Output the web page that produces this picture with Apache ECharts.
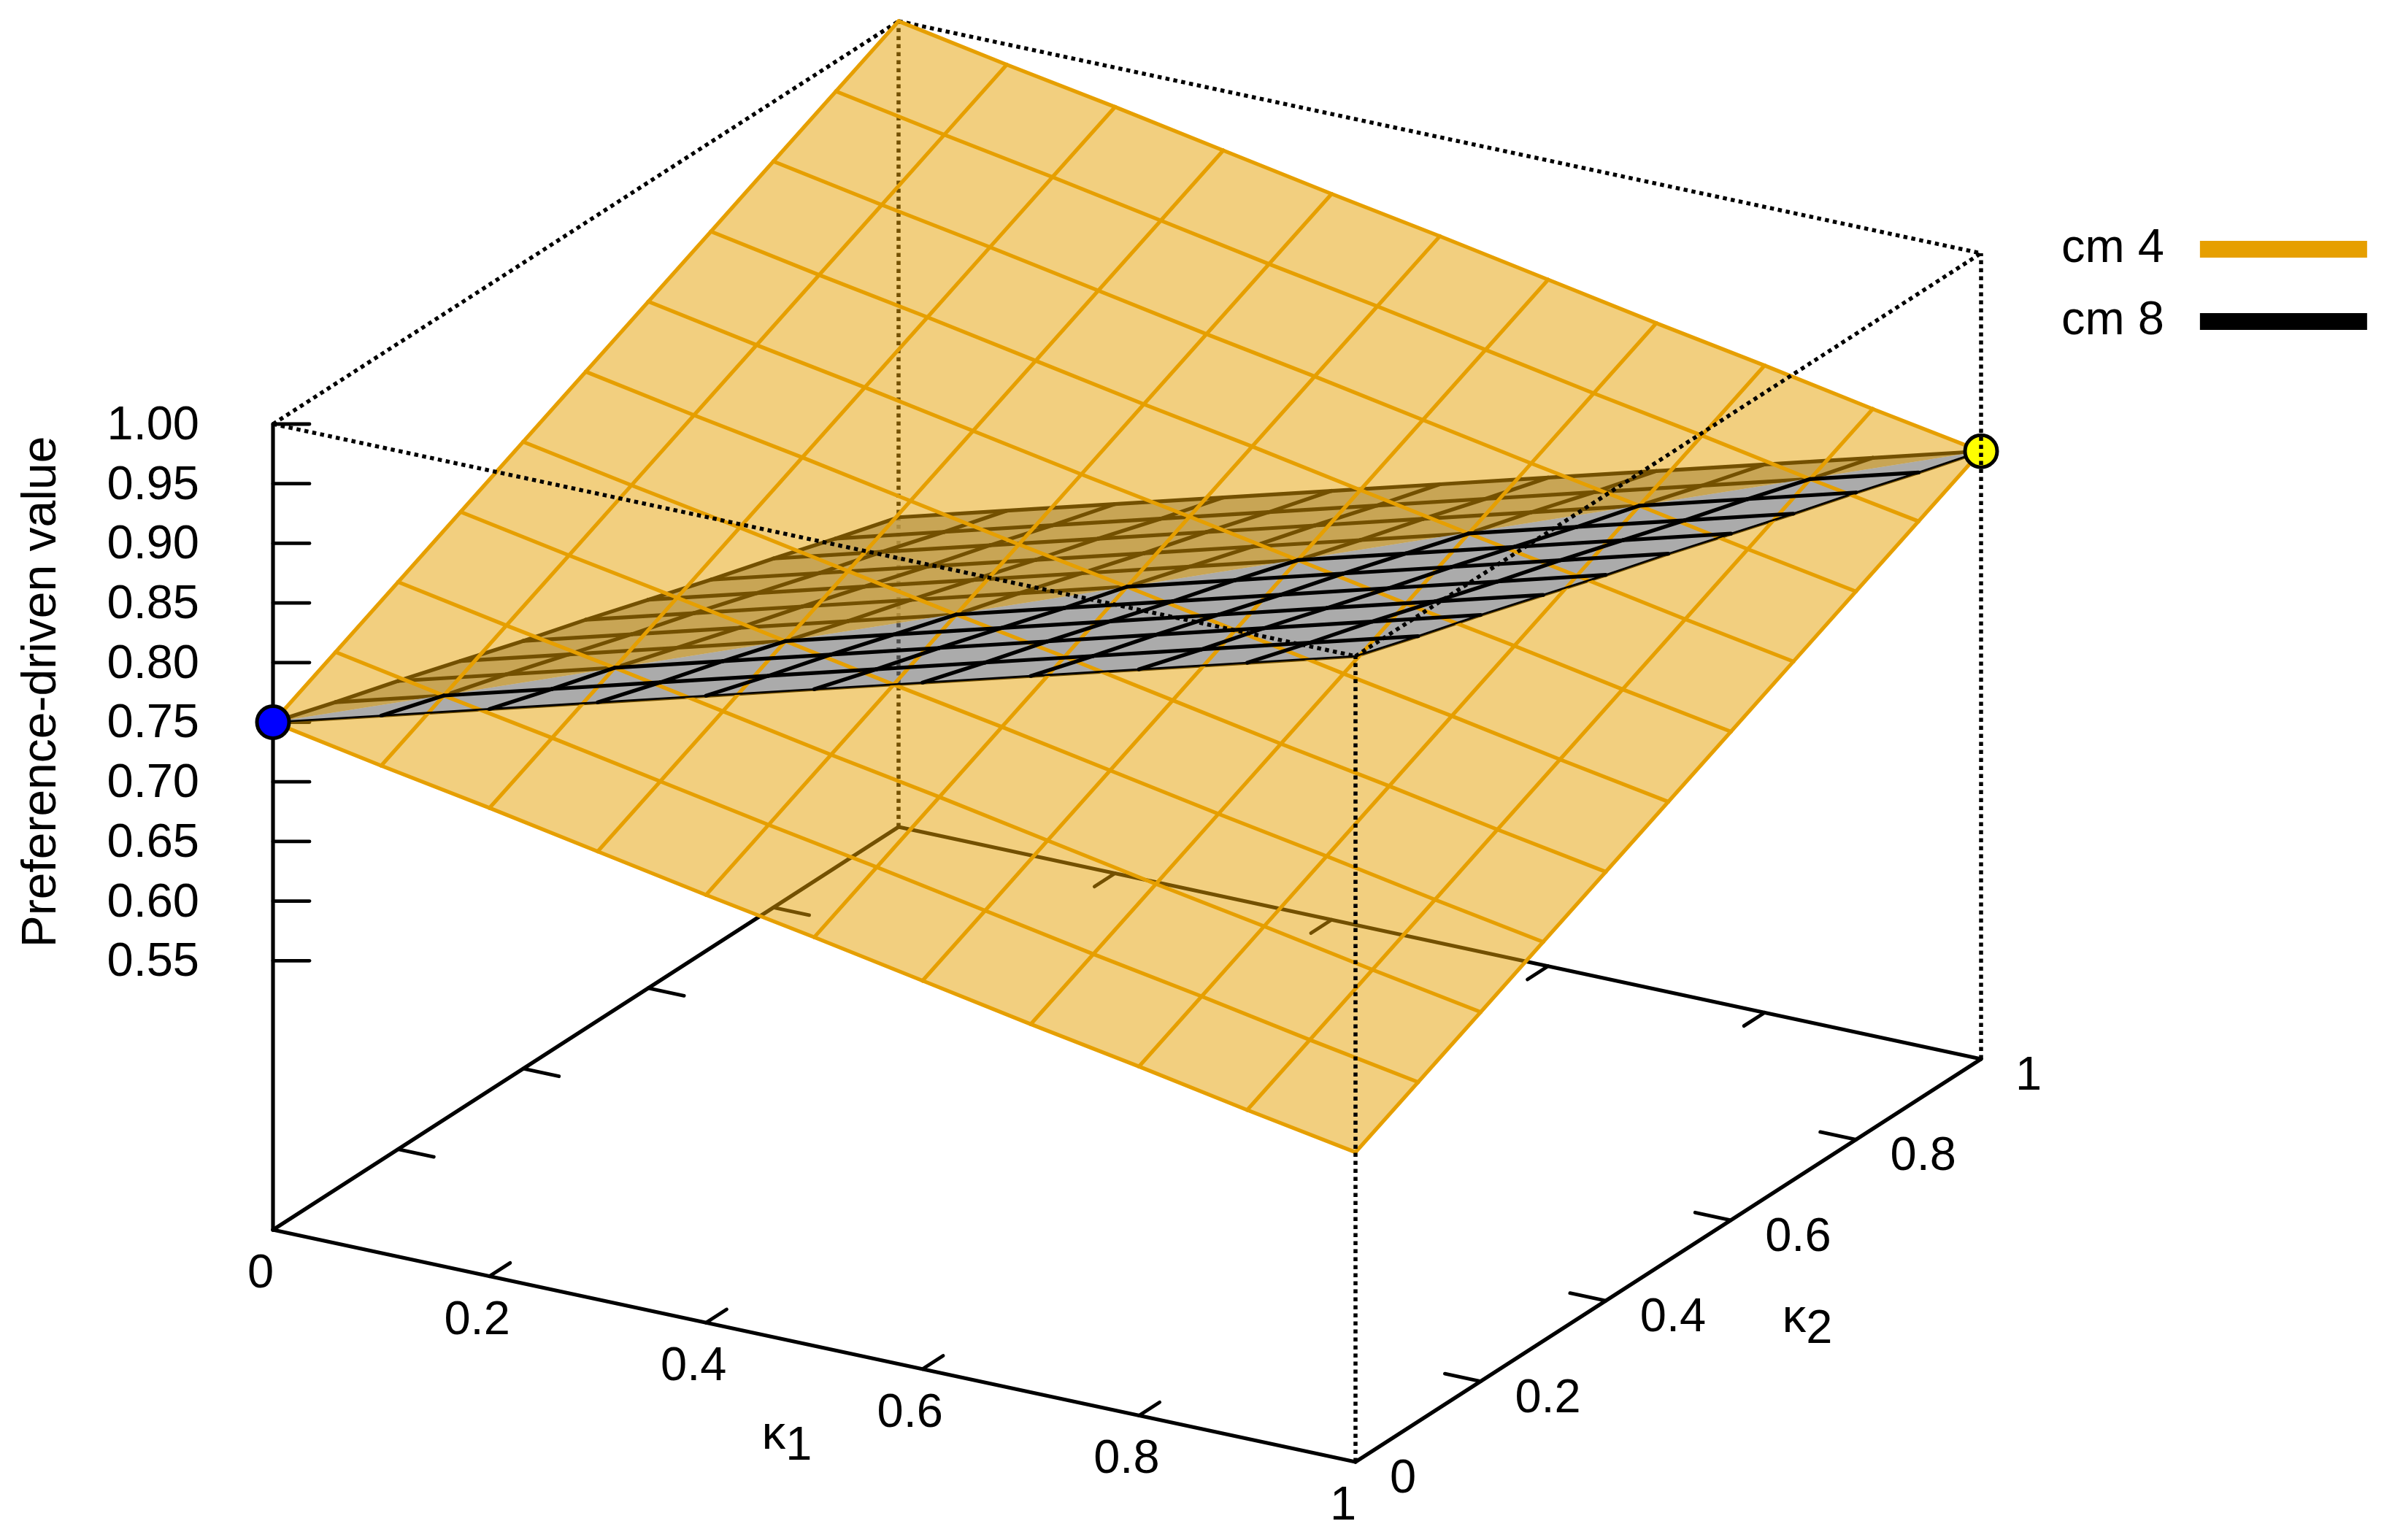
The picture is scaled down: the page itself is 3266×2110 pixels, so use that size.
<!DOCTYPE html>
<html>
<head>
<meta charset="utf-8">
<style>html,body{margin:0;padding:0;background:#fff}#c{width:3266px;height:2110px}</style>
<script src="https://cdn.jsdelivr.net/npm/echarts@6/dist/echarts.min.js"></script>
</head>
<body>
<div id="c"></div>
<script>
// ---------- values ----------
const kappaGrid = [0, 0.1, 0.2, 0.3, 0.4, 0.5, 0.6, 0.7, 0.8, 0.9, 1];
// rows: kappa2 = 0 .. 1, columns: kappa1 = 0 .. 1
const cm4Values = [
  [0.750,0.733,0.717,0.700,0.683,0.667,0.650,0.633,0.617,0.600,0.584],
  [0.775,0.758,0.742,0.725,0.708,0.692,0.675,0.658,0.642,0.625,0.609],
  [0.800,0.783,0.767,0.750,0.733,0.717,0.700,0.683,0.667,0.650,0.634],
  [0.825,0.808,0.792,0.775,0.758,0.742,0.725,0.708,0.692,0.675,0.659],
  [0.850,0.833,0.817,0.800,0.783,0.767,0.750,0.733,0.717,0.700,0.684],
  [0.875,0.858,0.842,0.825,0.808,0.792,0.775,0.758,0.742,0.725,0.709],
  [0.900,0.883,0.867,0.850,0.833,0.817,0.800,0.783,0.767,0.750,0.734],
  [0.925,0.908,0.892,0.875,0.858,0.842,0.825,0.808,0.792,0.775,0.759],
  [0.950,0.933,0.917,0.900,0.883,0.867,0.850,0.833,0.817,0.800,0.784],
  [0.975,0.958,0.942,0.925,0.908,0.892,0.875,0.858,0.842,0.825,0.809],
  [1.000,0.983,0.967,0.950,0.933,0.917,0.900,0.883,0.867,0.850,0.834]
];
const cm8Values = [
  [0.750,0.775,0.800,0.825,0.850,0.875,0.900,0.925,0.950,0.975,1.000],
  [0.733,0.758,0.783,0.808,0.833,0.858,0.883,0.908,0.933,0.958,0.983],
  [0.717,0.742,0.767,0.792,0.817,0.842,0.867,0.892,0.917,0.942,0.967],
  [0.700,0.725,0.750,0.775,0.800,0.825,0.850,0.875,0.900,0.925,0.950],
  [0.683,0.708,0.733,0.758,0.783,0.808,0.833,0.858,0.883,0.908,0.933],
  [0.667,0.692,0.717,0.742,0.767,0.792,0.817,0.842,0.867,0.892,0.917],
  [0.650,0.675,0.700,0.725,0.750,0.775,0.800,0.825,0.850,0.875,0.900],
  [0.633,0.658,0.683,0.708,0.733,0.758,0.783,0.808,0.833,0.858,0.883],
  [0.617,0.642,0.667,0.692,0.717,0.742,0.767,0.792,0.817,0.842,0.867],
  [0.600,0.625,0.650,0.675,0.700,0.725,0.750,0.775,0.800,0.825,0.850],
  [0.584,0.609,0.634,0.659,0.684,0.709,0.734,0.759,0.784,0.809,0.834]
];
const zTicks = [1.00,0.95,0.90,0.85,0.80,0.75,0.70,0.65,0.60,0.55];
const zTickLabels = ['1.00','0.95','0.90','0.85','0.80','0.75','0.70','0.65','0.60','0.55'];
const k1Ticks = [0,0.2,0.4,0.6,0.8,1];
const k1TickLabels = ['0','0.2','0.4','0.6','0.8','1'];
const k2Ticks = [0,0.2,0.4,0.6,0.8,1];
const k2TickLabels = ['0','0.2','0.4','0.6','0.8','1'];
const lowPoint = {k1:0, k2:0, z:0.75};
const highPoint = {k1:1, k2:1, z:0.834};

// ---------- gnuplot-like 3D view ----------
const view = {ox:374, oy:1685, k1x:1483, k1y:318, k2x:857, k2y:-552, zScale:1634, zTop:1, zHeight:1104};
const zBase = view.zTop - view.zHeight / view.zScale;
function P(k1, k2, z) {
  return [view.ox + view.k1x*k1 + view.k2x*k2,
          view.oy + view.k1y*k1 + view.k2y*k2 - (z - zBase)*view.zScale];
}
const seg = (a, b) => [a[0], a[1], b[0], b[1]];
const ORANGE = '#E69F00', GREY = '#ababab', BLACK = '#000', FONT = '"Liberation Sans", Arial, sans-serif';
const TXT = 65, last = kappaGrid.length - 1;

const xAxisIdx = {xAxisIndex:0, yAxisIndex:0};
let zCounter = 1;
function segSeries(name, data, lw, color, dash) {
  return Object.assign({
    type:'custom', name, z:zCounter++, silent:true, clip:false, data,
    encode:{x:0, y:1},
    itemStyle:{color},
    renderItem(p, api) {
      const a = api.coord([api.value(0), api.value(1)]), b = api.coord([api.value(2), api.value(3)]);
      return {type:'line', shape:{x1:a[0], y1:a[1], x2:b[0], y2:b[1]},
        style:{stroke:color, lineWidth:lw, lineDash:dash||null, lineCap:dash?'butt':'round', fill:null}};
    }
  }, xAxisIdx);
}
function polySeries(name, pts, fill) {
  return Object.assign({
    type:'custom', name, z:zCounter++, silent:true, clip:false,
    data:[pts.reduce((acc, q) => acc.concat(q), [])],
    dimensions:pts.reduce((acc, q, i) => acc.concat(['x'+i, 'y'+i]), []),
    encode:{x:0, y:1},
    itemStyle:{color:fill},
    renderItem(p, api) {
      const points = pts.map((_, i) => api.coord([api.value(2*i), api.value(2*i+1)]));
      return {type:'polygon', shape:{points}, style:{fill, stroke:null}};
    }
  }, xAxisIdx);
}
function textSeries(items) {
  return Object.assign({
    type:'custom', name:'labels', z:500, silent:true, clip:false,
    data:items.map(t => [t.x, t.y]), encode:{x:0, y:1},
    renderItem(p, api) {
      const t = items[p.dataIndex], c = api.coord([api.value(0), api.value(1)]);
      return {type:'text', x:c[0], y:c[1], rotation:t.rotation||0,
        style:{text:t.text, rich:t.rich, fill:BLACK, font:TXT+'px '+FONT, fontFamily:'Liberation Sans', fontSize:t.size||TXT,
               textAlign:t.align||'center', textVerticalAlign:'middle'}};
    }
  }, xAxisIdx);
}

// mesh segments, split on the diagonal where the two surfaces cross
function mesh(table) {
  const upper = [], lower = [], edge = [];
  kappaGrid.forEach((k2, j) => kappaGrid.forEach((k1, i) => {
    const here = P(k1, k2, table[j][i]);
    if (i < last) {
      const s = seg(here, P(kappaGrid[i+1], k2, table[j][i+1]));
      (j > i ? upper : lower).push(s);
      if (j === 0) edge.push(s);
    }
    if (j < last) {
      const s = seg(here, P(k1, kappaGrid[j+1], table[j+1][i]));
      (j >= i ? upper : lower).push(s);
      if (i === last) edge.push(s);
    }
  }));
  return {upper, lower, edge};
}
const m8 = mesh(cm8Values), m4 = mesh(cm4Values);
const c4 = (i, j) => P(kappaGrid[i], kappaGrid[j], cm4Values[j][i]);
const c8 = (i, j) => P(kappaGrid[i], kappaGrid[j], cm8Values[j][i]);

// frame
const frameSolid = [
  seg(P(0,0,zBase), P(1,0,zBase)), seg(P(1,0,zBase), P(1,1,zBase)),
  seg(P(1,1,zBase), P(0,1,zBase)), seg(P(0,1,zBase), P(0,0,zBase)),
  seg(P(0,0,zBase), P(0,0,1))
];
const tickSeg = [];
const tick = 0.033;
zTicks.forEach(z => { const a = P(0,0,z); tickSeg.push([a[0], a[1], a[0]+50, a[1]]); });
k1Ticks.slice(1,-1).forEach(k => {
  tickSeg.push(seg(P(k,0,zBase), P(k,tick,zBase)));
  tickSeg.push(seg(P(k,1,zBase), P(k,1-tick,zBase)));
});
k2Ticks.slice(1,-1).forEach(k => {
  tickSeg.push(seg(P(1,k,zBase), P(1-tick,k,zBase)));
  tickSeg.push(seg(P(0,k,zBase), P(tick,k,zBase)));
});
const DOT = [5.5, 5.5];
const backDots = [seg(P(0,1,zBase), P(0,1,1)), seg(P(0,0,1), P(0,1,1)), seg(P(0,1,1), P(1,1,1))];
const frontDots = [seg(P(0,0,1), P(1,0,1)), seg(P(1,0,1), P(1,1,1)), seg(P(1,0,zBase), P(1,0,1))];
const rightDots = [seg(P(1,1,zBase), P(1,1,1))];
const ghostUpper = [seg(P(0,1,0.5845), P(0,1,0.4951))];
const ghostLower = [seg(P(0,1,0.4951), P(0,1,0.4444))];

// labels
const labels = [];
zTicks.forEach((z, i) => { const a = P(0,0,z); labels.push({x:273, y:a[1]+3, text:zTickLabels[i], align:'right'}); });
k1Ticks.forEach((k, i) => { const a = P(k,0,zBase); labels.push({x:a[0]-17, y:a[1]+61, text:k1TickLabels[i]}); });
k2Ticks.forEach((k, i) => { const a = P(1,k,zBase); labels.push({x:a[0]+47, y:a[1]+24, text:k2TickLabels[i], align:'left'}); });
labels.push({x:58, y:948, text:'Preference-driven value', rotation:Math.PI/2, size:66});
const subRich = {
  k:{fontFamily:'Liberation Sans', fontSize:TXT, lineHeight:65, verticalAlign:'top', fill:BLACK},
  s:{fontFamily:'Liberation Sans', fontSize:TXT, lineHeight:80, verticalAlign:'bottom', fill:BLACK}
};
labels.push({x:1078, y:1975, text:'{k|\u03BA}{s|1}', rich:subRich});
labels.push({x:2476, y:1815, text:'{k|\u03BA}{s|2}', rich:subRich});

function pointSeries(name, pt, color) {
  return Object.assign({
    type:'scatter', name, z:zCounter++, silent:true, clip:false,
    symbol:'circle', symbolSize:44, data:[P(pt.k1, pt.k2, pt.z)],
    itemStyle:{color, borderColor:BLACK, borderWidth:5, opacity:1}
  }, xAxisIdx);
}

const MESH = 5.2;
const series = [
  segSeries('frame', frameSolid, 5.2, BLACK),
  segSeries('ticks', tickSeg, 4.8, BLACK),
  segSeries('box back', backDots, DOT[0], BLACK, DOT),
  polySeries('cm 8', [c8(0,0), c8(0,last), c8(last,last)], GREY),
  segSeries('box back', ghostUpper, DOT[0], 'rgba(0,0,0,0.3)', DOT),
  segSeries('cm 8', m8.upper, MESH, BLACK),
  segSeries('cm 8', m8.edge, MESH, BLACK),
  polySeries('cm 4', [c4(0,0), c4(last,0), c4(last,last), c4(0,last)], 'rgba(230,159,0,0.5)'),
  polySeries('cm 8', [c8(0,0), c8(last,0), c8(last,last)], GREY),
  segSeries('box back', ghostLower, DOT[0], 'rgba(0,0,0,0.55)', DOT),
  segSeries('cm 4', m4.upper.concat(m4.lower), MESH, ORANGE),
  segSeries('cm 8', m8.lower.filter(s => !m8.edge.includes(s)), MESH, BLACK),
  segSeries('cm 8', m8.edge, 2.6, BLACK),
  pointSeries('min', lowPoint, '#0000ff'),
  pointSeries('max', highPoint, '#ffff00'),
  segSeries('box front', frontDots, DOT[0], BLACK, DOT),
  segSeries('box front', rightDots, DOT[0], BLACK, DOT),
  textSeries(labels)
];

const chart = echarts.init(document.getElementById('c'), null, {renderer:'canvas', width:3266, height:2110});
chart.setOption({
  animation:false,
  backgroundColor:'#fff',
  grid:{left:0, right:0, top:0, bottom:0, containLabel:false},
  xAxis:{type:'value', min:0, max:3266, show:false},
  yAxis:{type:'value', min:0, max:2110, inverse:true, show:false},
  legend:{
    left:2819, top:304, orient:'vertical', align:'right', itemGap:34, itemWidth:229, itemHeight:23,
    selectedMode:false, icon:'rect',
    data:[
      {name:'cm 4', itemStyle:{color:ORANGE, opacity:1}},
      {name:'cm 8', itemStyle:{color:BLACK, opacity:1}}
    ],
    textStyle:{fontFamily:'Liberation Sans', fontSize:TXT, color:BLACK, lineHeight:65, padding:[0,44,0,0]}
  },
  series
});
</script>
</body>
</html>
